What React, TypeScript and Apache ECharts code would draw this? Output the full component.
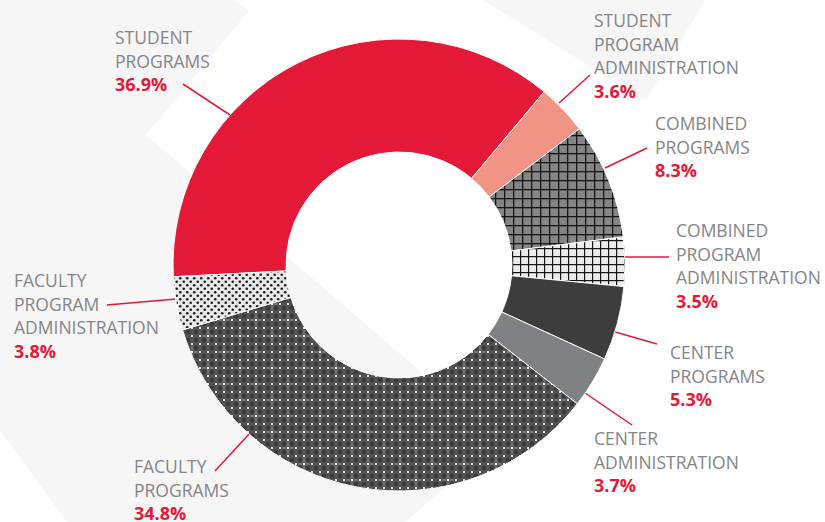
import React, { useEffect, useRef } from 'react';
import * as echarts from 'echarts';

// ---- data ----
const categories = [
  'STUDENT\nPROGRAMS',
  'STUDENT\nPROGRAM\nADMINISTRATION',
  'COMBINED\nPROGRAMS',
  'COMBINED\nPROGRAM\nADMINISTRATION',
  'CENTER\nPROGRAMS',
  'CENTER\nADMINISTRATION',
  'FACULTY\nPROGRAMS',
  'FACULTY\nPROGRAM\nADMINISTRATION',
];
const shares = [36.9, 3.6, 8.3, 3.5, 5.3, 3.7, 34.8, 3.8];

// ---- layout (label anchors: top-left of text block; leader lines) ----
const labelAnchors: number[][] = [
  [115, 25.5],
  [594, 8.5],
  [655, 111.5],
  [676, 218.5],
  [670, 340.5],
  [594, 426.5],
  [134, 454.5],
  [14, 268.5],
];
const leaderLines: number[][][] = [
  [[230, 115], [183, 84]],
  [[559, 103], [590, 75]],
  [[605, 168], [647, 148]],
  [[625, 257], [669, 257]],
  [[615, 332], [657, 344]],
  [[585, 393], [632, 425]],
  [[250, 433], [215, 471]],
  [[176, 299], [107, 305]],
];

const RED = '#E31937';
const TEXT_GRAY = '#858587';

function makeTile(w: number, h: number, draw: (ctx: CanvasRenderingContext2D) => void) {
  const c = document.createElement('canvas');
  c.width = w;
  c.height = h;
  const ctx = c.getContext('2d')!;
  draw(ctx);
  return { image: c, repeat: 'repeat', imageWidth: w, imageHeight: h } as any;
}

function buildPatterns() {
  const gridDark = makeTile(9, 9, (ctx) => {
    ctx.fillStyle = '#848484';
    ctx.fillRect(0, 0, 9, 9);
    ctx.fillStyle = '#151515';
    ctx.fillRect(0, 0, 9, 1.3);
    ctx.fillRect(0, 0, 1.3, 9);
  });
  const gridLight = makeTile(8, 8, (ctx) => {
    ctx.fillStyle = '#ececec';
    ctx.fillRect(0, 0, 8, 8);
    ctx.fillStyle = '#151515';
    ctx.fillRect(0, 0, 8, 1.2);
    ctx.fillRect(0, 0, 1.2, 8);
  });
  const dotsLight = makeTile(7, 7, (ctx) => {
    ctx.fillStyle = '#e9e9e9';
    ctx.fillRect(0, 0, 7, 7);
    ctx.fillStyle = '#1e1e1e';
    for (const [x, y] of [[1.75, 1.75], [5.25, 5.25]]) {
      ctx.beginPath();
      ctx.arc(x, y, 1.3, 0, Math.PI * 2);
      ctx.fill();
    }
  });
  const ornate = makeTile(32, 32, (ctx) => {
    ctx.fillStyle = '#3a3a3a';
    ctx.fillRect(0, 0, 32, 32);
    ctx.strokeStyle = '#727272';
    ctx.lineWidth = 0.8;
    for (let i = 0; i < 4; i++) {
      for (let j = 0; j < 4; j++) {
        ctx.beginPath();
        ctx.arc(4 + i * 8, 4 + j * 8, 3.3, 0, Math.PI * 2);
        ctx.stroke();
      }
    }
    ctx.strokeStyle = 'rgba(225,225,225,0.6)';
    ctx.lineWidth = 0.7;
    for (const [cx, cy] of [[16, 16], [0, 0], [32, 0], [0, 32], [32, 32]]) {
      ctx.beginPath();
      ctx.moveTo(cx - 6, cy);
      ctx.lineTo(cx + 6, cy);
      ctx.moveTo(cx, cy - 6);
      ctx.lineTo(cx, cy + 6);
      ctx.stroke();
    }
    ctx.fillStyle = '#ececec';
    for (let i = 0; i <= 4; i++) {
      for (let j = 0; j <= 4; j++) {
        ctx.beginPath();
        ctx.arc(i * 8, j * 8, 1.2, 0, Math.PI * 2);
        ctx.fill();
      }
    }
  });
  return { gridDark, gridLight, dotsLight, ornate };
}

export default function App() {
  const ref = useRef<HTMLDivElement>(null);
  useEffect(() => {
    document.body.style.margin = '0';
    const chart = echarts.init(ref.current!, null, { renderer: 'svg' });
    const p = buildPatterns();
    const fills: any[] = [RED, '#F19385', p.gridDark, p.gridLight, '#3d3d3d', '#808184', p.ornate, p.dotsLight];
    const fontFamily = '"Open Sans", "Noto Sans", sans-serif';
    chart.setOption({
      animation: false,
      backgroundColor: '#ffffff',
      graphic: [
        {
          type: 'polygon',
          z: 0,
          silent: true,
          shape: { points: [[0, 0], [235, 0], [249, 11], [146, 135], [500, 440], [405, 522], [67, 522], [0, 430]] },
          style: { fill: '#f6f6f6' },
        },
        {
          type: 'polygon',
          z: 0,
          silent: true,
          shape: { points: [[483, 0], [705, 0], [646, 101]] },
          style: { fill: '#f6f6f6' },
        },
      ],
      series: [
        {
          type: 'pie',
          z: 2,
          silent: true,
          center: [399, 265],
          radius: [113, 226],
          startAngle: 183,
          clockwise: true,
          avoidLabelOverlap: false,
          emphasis: { disabled: true },
          itemStyle: { borderColor: '#ffffff', borderWidth: 1 },
          label: {
            show: true,
            position: 'outside',
            lineHeight: 23.5,
            formatter: (prm: any) => {
              const lines = String(prm.name).split('\n').map((l: string) => `{n|${l}}`);
              return lines.join('\n') + `\n{p|${Number(prm.value).toFixed(1)}%}`;
            },
            rich: {
              n: { fontSize: 17.5, color: TEXT_GRAY, fontFamily, lineHeight: 23.5 },
              p: { fontSize: 18, fontWeight: 'bold', color: RED, fontFamily, lineHeight: 23.5 },
            },
          },
          labelLine: {
            show: true,
            length: 5,
            length2: 5,
            smooth: false,
            lineStyle: { color: RED, width: 1.5 },
          },
          labelLayout: (params: any) => {
            const i = params.dataIndex;
            return {
              x: labelAnchors[i][0],
              y: labelAnchors[i][1],
              align: 'left',
              verticalAlign: 'top',
              labelLinePoints: leaderLines[i],
            };
          },
          data: categories.map((name, i) => ({
            name,
            value: shares[i],
            itemStyle: { color: fills[i] },
          })),
        },
      ],
    });
    return () => chart.dispose();
  }, []);
  return <div ref={ref} style={{ width: 825, height: 522 }} />;
}
